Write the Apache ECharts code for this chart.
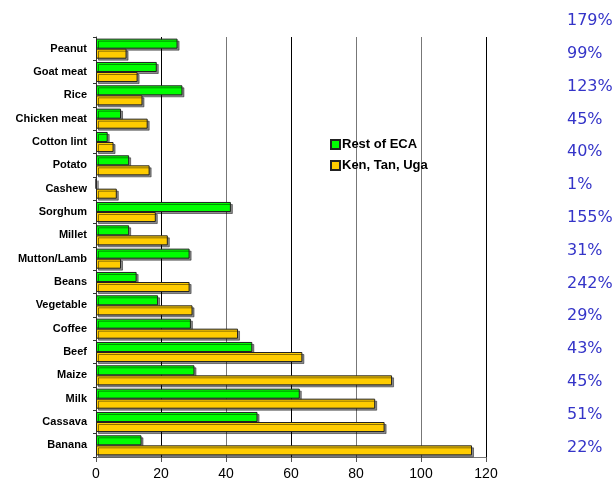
<!DOCTYPE html>
<html>
<head>
<meta charset="utf-8">
<script src="https://cdn.jsdelivr.net/npm/echarts@6/dist/echarts.min.js"></script>
<style>
  html, body { margin: 0; padding: 0; background: #fff; }
  #main { width: 614px; height: 483px; }
</style>
</head>
<body>
<div id="main"></div>
<script>
// categories top to bottom
var categories = [
  "Peanut", "Goat meat", "Rice", "Chicken meat", "Cotton lint", "Potato",
  "Cashew", "Sorghum", "Millet", "Mutton/Lamb", "Beans", "Vegetable",
  "Coffee", "Beef", "Maize", "Milk", "Cassava", "Banana"
];
var restOfECA = [25.1, 18.7, 26.6, 7.7, 3.6, 10.2, 0, 41.5, 10.2, 28.8, 12.5, 19.1, 29.2, 48.1, 30.3, 62.7, 49.7, 14.0];
var kenTanUga = [9.4, 12.8, 14.3, 15.9, 5.4, 16.5, 6.4, 18.4, 22.1, 7.7, 28.8, 29.7, 43.7, 63.5, 91.1, 85.9, 88.8, 115.7];
// text column on the right
var pctLabels = ["179%", "99%", "123%", "45%", "40%", "1%", "155%", "31%", "242%", "29%", "43%", "45%", "51%", "22%"];

var myChart = echarts.init(document.getElementById("main"));

var barStyle = function (color) {
  return {
    color: color,
    borderColor: "#222",
    borderWidth: 1,
    shadowColor: "rgba(0,0,0,0.45)",
    shadowOffsetX: 2,
    shadowOffsetY: 2,
    shadowBlur: 0
  };
};

var options = {
  animation: false,
  backgroundColor: "#fff",
  textStyle: { fontFamily: "Liberation Sans" },
  grid: { left: 96, right: 128, top: 37, bottom: 26 },
  legend: {
    orient: "vertical",
    left: 325,
    top: 133,
    icon: "rect",
    itemWidth: 9,
    itemHeight: 9,
    itemGap: 8,
    itemStyle: { shadowBlur: 0, shadowOffsetX: 0, shadowOffsetY: 0, shadowColor: "transparent" },
    textStyle: { fontSize: 13, fontWeight: "bold", color: "#000", padding: [0, 0, 0, -3] },
    data: ["Rest of ECA", "Ken, Tan, Uga"]
  },
  xAxis: {
    type: "value",
    min: 0,
    max: 120,
    interval: 20,
    axisLine: { show: true, lineStyle: { color: "#777" } },
    axisTick: { show: true, length: 5, lineStyle: { color: "#555" } },
    axisLabel: { color: "#000", fontSize: 14, margin: 10 },
    // gridlines alternate dark / grey like the original
    splitLine: { show: true, lineStyle: { color: ["#000", "#000", "#777", "#000", "#777", "#777", "#000"], width: 1 } }
  },
  yAxis: {
    type: "category",
    inverse: true,
    data: categories,
    axisLine: { show: true, lineStyle: { color: "#333" } },
    axisTick: { show: true, length: 3, lineStyle: { color: "#333" } },
    axisLabel: { color: "#000", fontSize: 11, fontWeight: "bold", margin: 9 }
  },
  series: [
    {
      name: "Rest of ECA",
      type: "bar",
      data: restOfECA,
      barGap: "0%",
      barCategoryGap: "14%",
      itemStyle: barStyle("#00ff00")
    },
    {
      name: "Ken, Tan, Uga",
      type: "bar",
      data: kenTanUga,
      barGap: "0%",
      barCategoryGap: "14%",
      itemStyle: barStyle("#ffcc00")
    }
  ],
  graphic: pctLabels.map(function (t, i) {
    return {
      type: "text",
      left: 567,
      top: 13 + i * 32.8,
      style: {
        text: t,
        fill: "#3434c8",
        font: "16px 'DejaVu Sans'"
      }
    };
  })
};

myChart.setOption(options);
</script>
</body>
</html>
